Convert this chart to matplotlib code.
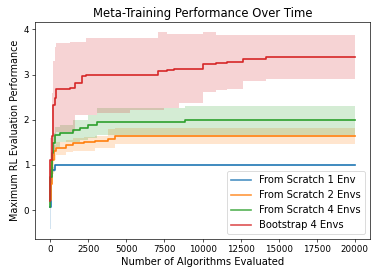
import matplotlib
matplotlib.use('Agg')
import matplotlib.pyplot as plt
import numpy as np

# -------------- Data ----------------------------------------------
labels = ['From Scratch 1 Env', 'From Scratch 2 Envs', 'From Scratch 4 Envs', 'Bootstrap 4 Envs']

scratch1_x = [0, 30, 66, 285, 20000]
scratch1_mean = [0.07, 0.50, 0.89, 1.00, 1.00]
scratch1_low = [-0.42, 0.30, 0.85, 1.00, 1.00]
scratch1_high = [0.30, 0.70, 0.95, 1.00, 1.00]

scratch2_x = [0, 66, 130, 218, 400, 1060, 1500, 2200, 2930, 3800, 4250, 20000]
scratch2_mean = [0.23, 0.59, 1.10, 1.30, 1.37, 1.44, 1.48, 1.50, 1.54, 1.58, 1.64, 1.64]
scratch2_low = [0.05, 0.30, 0.80, 1.10, 1.22, 1.28, 1.30, 1.30, 1.37, 1.37, 1.46, 1.47]
scratch2_high = [0.40, 0.90, 1.30, 1.45, 1.50, 1.55, 1.60, 1.62, 1.63, 1.79, 1.82, 1.82]

scratch4_x = [0, 20, 86, 172, 285, 620, 1500, 1940, 2490, 3040, 8880, 20000]
scratch4_mean = [0.07, 0.74, 1.26, 1.48, 1.67, 1.70, 1.78, 1.81, 1.89, 1.96, 2.00, 2.00]
scratch4_low = [0.00, 0.50, 1.00, 1.20, 1.40, 1.50, 1.50, 1.55, 1.60, 1.67, 1.67, 1.67]
scratch4_high = [0.15, 1.00, 1.50, 1.70, 1.85, 1.89, 2.00, 2.00, 2.11, 2.26, 2.31, 2.31]

boot4_x = [0, 20, 86, 172, 285, 400, 1280, 1600, 2110, 2330, 3040, 5240,
           7070, 7440, 7670, 8110, 8440, 10050, 10870, 11600, 12630, 14170, 20000]
boot4_mean = [0.20, 1.11, 1.63, 2.33, 2.48, 2.67, 2.70, 2.81, 2.96, 3.00, 3.00, 3.00,
              3.07, 3.07, 3.11, 3.13, 3.13, 3.24, 3.26, 3.28, 3.35, 3.38, 3.38]
boot4_low = [0.00, 0.40, 0.90, 1.30, 1.55, 1.74, 1.74, 2.11, 2.11, 2.11, 2.15, 2.21,
             2.21, 2.26, 2.26, 2.26, 2.36, 2.61, 2.66, 2.69, 2.85, 2.90, 2.90]
boot4_high = [0.30, 1.60, 2.60, 3.30, 3.60, 3.70, 3.73, 3.73, 3.73, 3.81, 3.81, 3.81,
              3.95, 3.95, 3.90, 3.90, 3.90, 3.93, 3.87, 3.87, 3.87, 3.87, 3.87]

series = [
    (scratch1_x, scratch1_mean, scratch1_low, scratch1_high),
    (scratch2_x, scratch2_mean, scratch2_low, scratch2_high),
    (scratch4_x, scratch4_mean, scratch4_low, scratch4_high),
    (boot4_x, boot4_mean, boot4_low, boot4_high),
]
colors = ['C0', 'C1', 'C2', 'C3']

# -------------- Plot -----------------------
fig = plt.figure(figsize=(380 / 60, 278 / 60), dpi=60)
ax = fig.add_axes([0.092, 0.140, 0.882, 0.782])

for (x, mean, low, high), label, color in zip(series, labels, colors):
    ax.step(x, mean, where='post', color=color, label=label, linewidth=2.0)
    ax.fill_between(x, low, high, step='post', color=color, alpha=0.2, linewidth=0)

ax.set_title('Meta-Training Performance Over Time', fontsize=14)
ax.set_xlabel('Number of Algorithms Evaluated', fontsize=12)
ax.set_ylabel('Maximum RL Evaluation Performance', fontsize=11.5)
ax.set_xticks(np.arange(0, 20001, 2500))
ax.tick_params(labelsize=10.5)
leg = ax.legend(loc='lower right', fontsize=12)
for line in leg.get_lines():
    line.set_alpha(0.8)

fig.savefig('out.png', dpi=60)
